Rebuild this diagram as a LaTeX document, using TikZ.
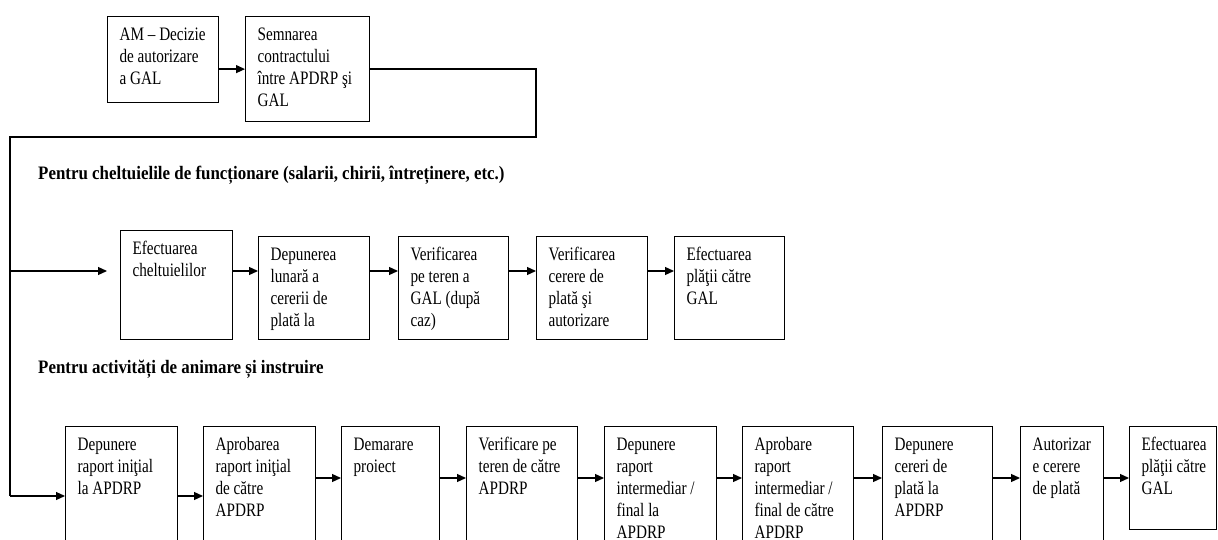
\documentclass[tikz,border=0pt]{standalone}
\usepackage{fontspec}
\setmainfont{Liberation Serif}
\newfontfamily\stagefamily{Liberation Serif}[FakeStretch=0.80]
\newfontfamily\headfamily{Liberation Serif}[FakeStretch=0.89]
\newcommand{\stagefont}{\stagefamily\fontsize{19pt}{22pt}\selectfont}
\newcommand{\headfont}{\headfamily\bfseries\fontsize{19pt}{22pt}\selectfont}
\usetikzlibrary{arrows.meta}

\begin{document}
\begin{tikzpicture}[x=1pt, y=-1pt,
    stage/.style 2 args={draw, line width=1.2pt, anchor=north west, inner sep=0pt,
        execute at begin node={\begin{minipage}[t][#2pt][t]{#1pt}\stagefont\raggedright\leftskip=12pt\rule{0pt}{24pt}},
        execute at end node={\end{minipage}}},
    head/.style={anchor=base west, inner sep=0pt, font=\headfont},
    link/.style={line width=1.2pt},
    arr/.style={link, -{Triangle[length=9pt, width=8pt]}}
]
\path[use as bounding box] (0,0) rectangle (1218,540);
\clip (0,0) rectangle (1218,540);

% contract
\node[stage={111}{86}] (am) at (107,16) {AM – Decizie\\de autorizare\\a GAL};
\node[stage={124}{105}] (sem) at (245,16) {Semnarea\\contractului\\între APDRP şi\\GAL};

% cheltuieli de functionare
\node[head] (hfun) at (38,180) {Pentru cheltuielile de funcționare (salarii, chirii, întreținere, etc.)};
\node[stage={112}{109}] (c1) at (120,230) {Efectuarea\\cheltuielilor};
\node[stage={111}{103}] (c2) at (258,236) {Depunerea\\lunară a\\cererii de\\plată la};
\node[stage={110}{103}] (c3) at (398,236) {Verificarea\\pe teren a\\GAL (după\\caz)};
\node[stage={111}{103}] (c4) at (536,236) {Verificarea\\cerere de\\plată şi\\autorizare};
\node[stage={110}{103}] (c5) at (674,236) {Efectuarea\\plăţii către\\GAL};

% animare si instruire
\node[head] (hanim) at (38,373) {Pentru activități de animare și instruire};
\node[stage={112}{130}] (r1) at (65,426) {Depunere\\raport iniţial\\la APDRP};
\node[stage={112}{130}] (r2) at (203,426) {Aprobarea\\raport iniţial\\de către\\APDRP};
\node[stage={98}{130}] (r3) at (341,426) {Demarare\\proiect};
\node[stage={111}{130}] (r4) at (466,426) {Verificare pe\\teren de către\\APDRP};
\node[stage={112}{130}] (r5) at (604,426) {Depunere\\raport\\intermediar /\\final la\\APDRP};
\node[stage={111}{130}] (r6) at (742,426) {Aprobare\\raport\\intermediar /\\final de către\\APDRP};
\node[stage={110}{130}] (r7) at (882,426) {Depunere\\cereri de\\plată la\\APDRP};
\node[stage={83}{130}] (r8) at (1020,426) {Autorizar\\e cerere\\de plată};
\node[stage={87}{103}] (r9) at (1129,426) {Efectuarea\\plăţii către\\GAL};

\coordinate (turn) at (536,137);
\coordinate (corner) at (10,137);
\coordinate (tap) at (10,271);
\coordinate (gap) at (107,271);
\coordinate (spineend) at (10,496);
\coordinate (lvl2) at (0,271);
\coordinate (lvl3) at (0,478);

\draw[arr] (am.east |- sem.west) -- (sem.west);
\draw[link] (sem.east) -| (turn) -- (corner) -- (spineend);

\draw[arr] (tap) -- (gap);
\draw[arr] (c1.east |- lvl2) -- (c2.west |- lvl2);
\draw[arr] (c2.east |- lvl2) -- (c3.west |- lvl2);
\draw[arr] (c3.east |- lvl2) -- (c4.west |- lvl2);
\draw[arr] (c4.east |- lvl2) -- (c5.west |- lvl2);

\draw[arr] (spineend) -- (r1.west |- spineend);
\draw[arr] (r1.east |- spineend) -- (r2.west |- spineend);
\draw[arr] (r2.east |- lvl3) -- (r3.west |- lvl3);
\draw[arr] (r3.east |- lvl3) -- (r4.west |- lvl3);
\draw[arr] (r4.east |- lvl3) -- (r5.west |- lvl3);
\draw[arr] (r5.east |- lvl3) -- (r6.west |- lvl3);
\draw[arr] (r6.east |- lvl3) -- (r7.west |- lvl3);
\draw[arr] (r7.east |- lvl3) -- (r8.west |- lvl3);
\draw[arr] (r8.east |- lvl3) -- (r9.west |- lvl3);
\end{tikzpicture}
\end{document}
